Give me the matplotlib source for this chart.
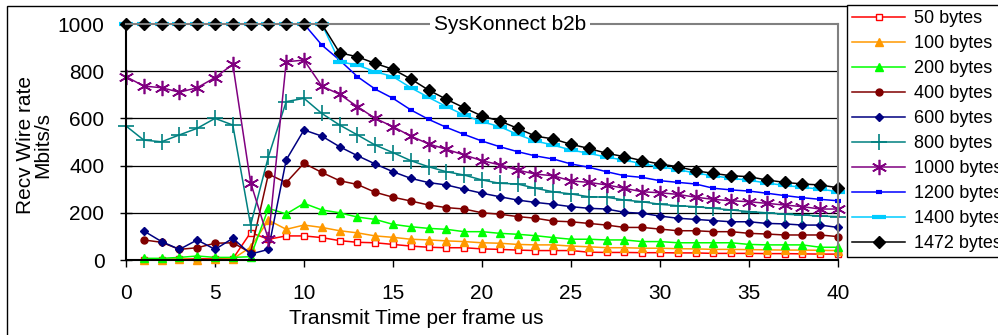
import numpy as np
import matplotlib
matplotlib.use("Agg")
import matplotlib.pyplot as plt
from matplotlib.patches import Rectangle

plt.rcParams['font.family'] = ['Liberation Sans', 'DejaVu Sans']

# transmit time per frame (us)
xTime = list(range(0, 41))

# recv wire rate (Mbit/s) per packet size, None = no point
s50 = [None, 0, 0, 3, 5, 5, 5, 116, 88, 102, 102, 95, 82, 75, 73, 66, 59, 54, 52, 52, 47,
       45, 42, 40, 40, 40, 33, 32, 32, 31, 31, 30, 30, 28, 28, 28, 27, 27, 26, 25, 25]
s100 = [None, 2, 2, 5, 0, 3, 5, 54, 169, 130, 148, 138, 124, 115, 102, 96, 88, 85, 81, 78, 73,
        71, 66, 64, 64, 59, 56, 52, 52, 50, 50, 48, 47, 45, 45, 44, 43, 42, 42, 41, 40]
s200 = [None, 7, 7, 11, 17, 11, 11, 14, 219, 195, 240, 212, 200, 182, 172, 151, 141, 134, 130, 120, 120,
        113, 109, 103, 95, 88, 88, 85, 85, 78, 78, 73, 73, 73, 73, 66, 64, 64, 64, 54, 54]
s400 = [None, 85, 75, 45, 52, 71, 73, 31, 364, 328, 410, 371, 336, 320, 287, 266, 250, 233, 222, 216, 200,
        194, 184, 177, 165, 162, 155, 148, 138, 138, 131, 124, 124, 120, 120, 113, 110, 106, 106, 106, 99]
s600 = [None, 123, 78, 45, 85, 45, 92, 25, 45, 424, 551, 525, 480, 442, 407, 374, 346, 328, 318, 300, 283,
        268, 254, 244, 236, 226, 219, 216, 202, 198, 186, 177, 172, 167, 162, 162, 155, 153, 148, 148, 138]
s800 = [568, 508, 501, 530, 558, 600, 572, 148, 438, 671, 685, 621, 572, 530, 487, 455, 421, 395, 374, 360, 339,
        325, 322, 304, 289, 280, 268, 266, 254, 247, 236, 230, 226, 219, 212, 205, 200, 194, 191, 186, 184]
s1000 = [777, 737, 730, 711, 730, 773, 829, 328, 88, 840, 847, 737, 702, 650, 600, 565, 525, 492, 469, 445, 421,
         403, 381, 364, 357, 335, 329, 318, 304, 289, 285, 278, 266, 257, 251, 247, 240, 233, 226, 216, 216]
s1200 = [1000, 1000, 1000, 1000, 1000, 1000, 1000, 1000, 1000, 1000, 1000, 911, 847, 777, 724, 685, 636, 596, 562, 532, 504,
         480, 459, 441, 428, 407, 393, 374, 357, 350, 336, 329, 322, 304, 297, 292, 283, 273, 264, 257, 251]
s1400 = [1000, 1000, 1000, 1000, 1000, 1000, 1000, 1000, 1000, 1000, 1000, 1000, 840, 826, 798, 777, 730, 689, 650, 614, 586,
         565, 532, 504, 487, 466, 452, 436, 423, 408, 395, 383, 368, 357, 346, 338, 326, 316, 308, 300, 290]
s1472 = [1000, 1000, 1000, 1000, 1000, 1000, 1000, 1000, 1000, 1000, 1000, 1000, 878, 861, 833, 808, 767, 720, 681, 645, 610,
         589, 558, 525, 513, 490, 473, 452, 438, 421, 407, 395, 378, 367, 357, 353, 339, 329, 322, 318, 306]

seriesLabels = ["50 bytes", "100 bytes", "200 bytes", "400 bytes", "600 bytes",
                "800 bytes", "1000 bytes", "1200 bytes", "1400 bytes", "1472 bytes"]
seriesData = [s50, s100, s200, s400, s600, s800, s1000, s1200, s1400, s1472]

# style per series: colour, marker, size, filled, edge width
styles = [
    ("#FF0000", "s", 4, False, 1.0),
    ("#FF9900", "^", 6, True, 1.0),
    ("#00FF00", "^", 6, True, 1.0),
    ("#800000", "o", 5, True, 1.0),
    ("#000080", "D", 4.5, True, 1.0),
    ("#008080", "+", 11, True, 1.2),
    ("#800080", (6, 2, 0), 11, True, 1.2),
    ("#0000FF", "_", 5, True, 3.0),
    ("#00CCFF", "_", 10, True, 3.0),
    ("#000000", "D", 6.5, True, 1.0),
]

W, H = 998, 335
fig = plt.figure(figsize=(W / 100, H / 100), dpi=100)
ax = fig.add_axes([126 / W, 1 - 260 / H, (838 - 126) / W, (260 - 24) / H])

handles = []
for vals, lab, st in zip(seriesData, seriesLabels, styles):
    col, mk, ms, filled, mew = st
    y = np.array([np.nan if v is None else v for v in vals], dtype=float)
    ln, = ax.plot(xTime, y, color=col, lw=1.1, marker=mk, markersize=ms,
                  markerfacecolor=col if filled else "white", markeredgecolor=col,
                  markeredgewidth=mew, label=lab, clip_on=False)
    handles.append(ln)

ax.set_xlim(0, 40)
ax.set_ylim(0, 1000)
ax.set_xticks(range(0, 41, 5))
ax.set_yticks(range(0, 1001, 200))
for yv in [200, 400, 600, 800]:
    ax.axhline(yv, color="black", lw=0.9, zorder=0.5)

for s in ["left", "bottom"]:
    ax.spines[s].set_color("black")
    ax.spines[s].set_linewidth(1.5)
for s in ["top", "right"]:
    ax.spines[s].set_color("#808080")
    ax.spines[s].set_linewidth(1.5)

ax.tick_params(axis="y", direction="inout", length=9, width=1, labelsize=15, pad=11)
ax.tick_params(axis="x", direction="out", length=5, width=1, labelsize=15, pad=12)

ax.text(0.539, 1.0, "SysKonnect b2b", transform=ax.transAxes, ha="center", va="center",
        fontsize=15, bbox=dict(fc="white", ec="none", pad=3), zorder=10)

fig.text(34 / W, 1 - 145 / H, "Recv Wire rate\nMbits/s", rotation=90, ha="center",
         va="center", fontsize=15, linespacing=0.9)
fig.text(416 / W, 1 - 318 / H, "Transmit Time per frame us", ha="center", va="center", fontsize=15)

# outer chart border
fig.patches.append(Rectangle((7 / W, -0.1), 1.2, 1.1 - 6 / H, transform=fig.transFigure,
                             fill=False, ec="black", lw=1.0))

leg = fig.legend(handles=handles, labels=seriesLabels, loc="upper left",
                 bbox_to_anchor=(847 / W, 1 - 5 / H), fontsize=13, frameon=True,
                 fancybox=False, edgecolor="black", framealpha=1, borderaxespad=0,
                 handlelength=2.9, handletextpad=0.5, labelspacing=0.44, borderpad=0.3)
leg.get_frame().set_linewidth(1.0)

fig.savefig("out.png", dpi=100)
